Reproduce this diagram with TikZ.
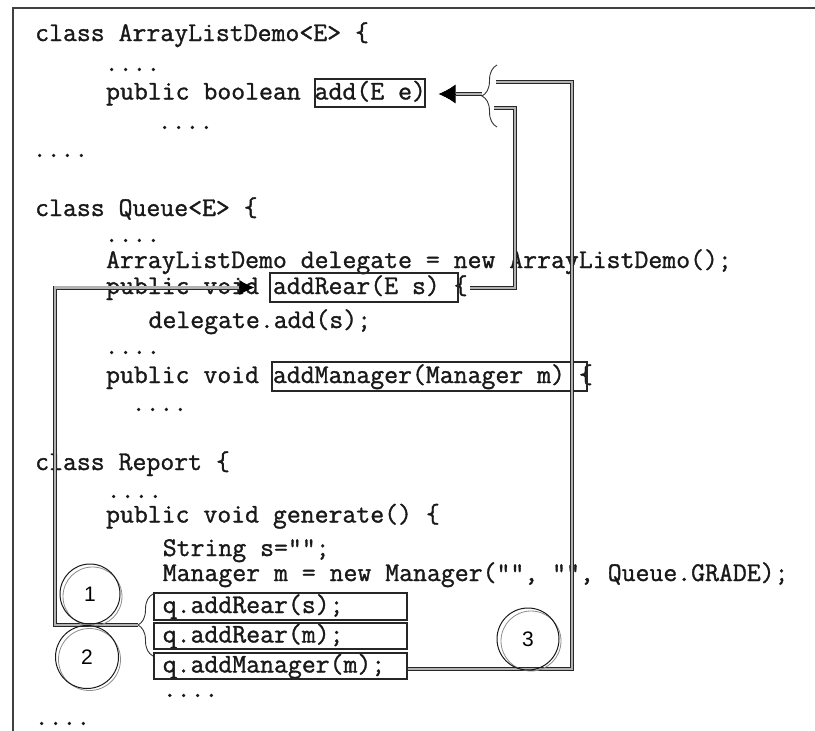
\documentclass[tikz,border=0pt]{standalone}
\usepackage{fontspec}
\newfontfamily\numfont{Liberation Sans}
\newfontfamily\codefont{Latin Modern Mono}[RawFeature={embolden=1.2}]
\usetikzlibrary{arrows.meta,decorations.pathreplacing,calc}
\begin{document}
\begin{tikzpicture}[x=1pt,y=-1pt,
  code/.style={anchor=base west, inner sep=0pt, font=\codefont\fontsize{27}{30}\selectfont, text=black!90},
  hbox/.style={draw=black!85, line width=1.1pt, rectangle, inner sep=0pt},
  conn/.style={draw=black!85, line width=0.8pt, double=black!30, double distance=2.4pt},
  bracestyle/.style={draw=black!80, line width=0.9pt, decorate, decoration={brace, amplitude=15pt, aspect=0.5}},
  numcirc/.style={circle, draw=black!90, line width=1pt, inner sep=0pt, font=\numfont\fontsize{21}{21}\selectfont},
  ghost/.style={draw=black!45, line width=0.8pt},
  tipstyle/.style={draw=black, line width=0.8pt},
]
\useasboundingbox (0,0) rectangle (815,731);

% frame
\draw[black!75, line width=1.2pt] (815,8) -- (13,8) -- (13,731);

% code lines
\node[code] (l1) at (35,41) {class ArrayListDemo<E> \{};
\node[code] (l2) at (104.5,71) {....};
\node[code] (l3) at (105.9,99.5) {public boolean add(E e)};
\node[code] (l4) at (157.5,129) {....};
\node[code] (l5) at (32.5,157) {....};
\node[code] (l6) at (35,216) {class Queue<E> \{};
\node[code] (l7) at (104.5,242) {....};
\node[code] (l8) at (105.9,268) {ArrayListDemo delegate = new ArrayListDemo();};
\node[code] (l9) at (105.9,294) {public void addRear(E s) \{};
\node[code] (l10) at (148.4,328) {delegate.add(s);};
\node[code] (l11) at (104.5,354) {....};
\node[code] (l12) at (105.9,383) {public void addManager(Manager m) \{};
\node[code] (l13) at (131.5,411) {....};
\node[code] (l14) at (35,470) {class Report \{};
\node[code] (l15) at (106.5,498) {....};
\node[code] (l16) at (105.9,522.5) {public void generate() \{};
\node[code] (l17) at (162.6,556) {String s="";};
\node[code] (l18) at (162.6,581) {Manager m = new Manager("", "", Queue.GRADE);};
\node[code] (l19) at (162.6,613) {q.addRear(s);};
\node[code] (l20) at (162.6,642.5) {q.addRear(m);};
\node[code] (l21) at (162.6,672.5) {q.addManager(m);};
\node[code] (l22) at (162.6,697) {....};
\node[code] (l23) at (34.5,725) {....};

% boxes
\node[hbox, minimum width=110pt, minimum height=28pt] (addBox) at (370,93) {};
\node[hbox, minimum width=188pt, minimum height=29pt] (rearBox) at (364,287.5) {};
\node[hbox, minimum width=315pt, minimum height=29pt] (mgrBox) at (429.5,376.5) {};
\node[hbox, minimum width=253pt, minimum height=27pt] (q1box) at (280.5,606.5) {};
\node[hbox, minimum width=253pt, minimum height=26pt] (q2box) at (280.5,636) {};
\node[hbox, minimum width=253pt, minimum height=26pt] (q3box) at (280.5,666) {};

% braces
\draw[bracestyle] (497,127) -- (497,65);
\coordinate (b1tip) at (482,94);
\draw[bracestyle] (153,656) -- (153,594);
\coordinate (b2tip) at (138,625);
\coordinate (rearEnd) at (470,288);

% connectors
\draw[conn] ($(q3box.east)+(0,3)$) -| (572,82) -- (496,82);
\draw[conn] (rearEnd) -| (515,108) -- (494,108);

\draw[tipstyle, -{Latex[length=17pt,width=19pt]}, shorten >=13pt] (b1tip) -- (addBox.east |- b1tip);
\draw[conn, shorten >=30pt] (b1tip) -- (addBox.east |- b1tip);

\draw[tipstyle, -{Latex[length=15pt,width=15pt]}, shorten >=15pt] (60,287.5) -- (rearBox.west);
\draw[conn] (b2tip) -| (55,287.5) -- ($(rearBox.west)+(-30,0)$);

% numbered circles
\draw[ghost] (92.5,596.5) circle[radius=29.5pt];
\node[numcirc, minimum size=60pt] (c1) at (90,594) {\raisebox{-4pt}{1}};
\draw[ghost] (89.5,659.5) circle[radius=31pt];
\node[numcirc, minimum size=63pt] (c2) at (87,657) {\raisebox{-3pt}{2}};
\draw[ghost] (531,641) circle[radius=30pt];
\node[numcirc, minimum size=62pt] (c3) at (528,639) {\raisebox{-2pt}{3}};
\end{tikzpicture}
\end{document}
